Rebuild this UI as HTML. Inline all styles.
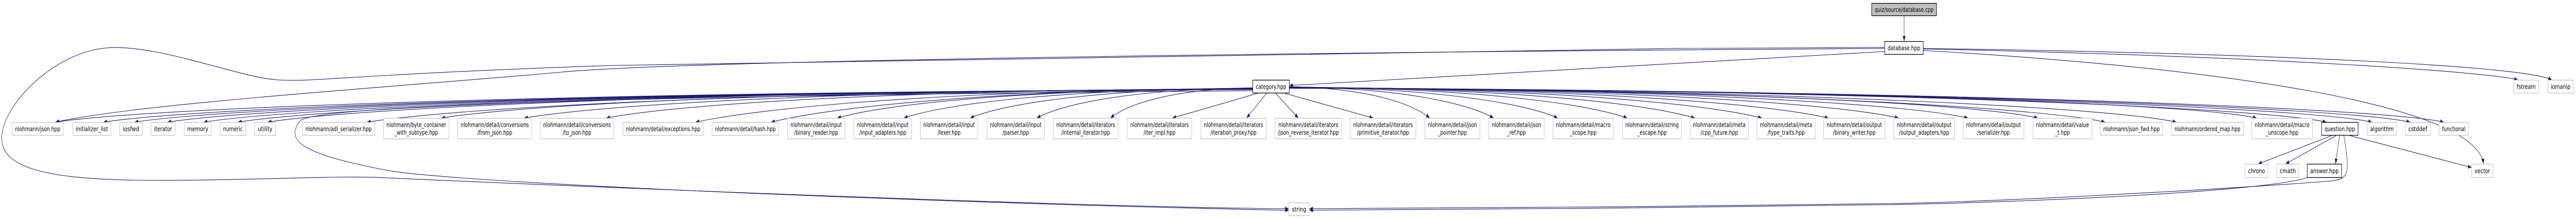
<!DOCTYPE html>
<html><head><meta charset="utf-8">
<meta name="viewport" content="width=7346">
<style>
html,body{margin:0;padding:0;background:#fff;overflow:hidden}
#g{display:block;width:100vw;height:100vh}
svg text{font-family:"DejaVu Sans","Liberation Sans",sans-serif;font-size:12px;fill:#000}
</style></head>
<body>
<svg id="g" xmlns="http://www.w3.org/2000/svg" viewBox="0 0 7346 425" preserveAspectRatio="none">
<defs>
<marker id="a" markerUnits="userSpaceOnUse" markerWidth="11" markerHeight="8" refX="10" refY="4" orient="auto">
<path d="M0,0 L10,4 L0,8 z" fill="#191970"/>
</marker>
</defs>
<g id="edges" fill="none" stroke="#191970" stroke-width="1.1"></g>
<g id="nodes"></g>
</svg>
<script>
var NS="http://www.w3.org/2000/svg";
var S=[237,263],D=[229,270];
var N=[
["json",34,181,S,["nlohmann/json.hpp"]],
["il",207,317,S,["initializer_list"]],
["iosfwd",341,406,S,["iosfwd"]],
["iterator",430,500,S,["iterator"]],
["memory",525,603,S,["memory"]],
["numeric",627,701,S,["numeric"]],
["utility",726,786,S,["utility"]],
["adl",862,1069,S,["nlohmann/adl_serializer.hpp"]],
["byte",1093,1281,D,["nlohmann/byte_container","_with_subtype.hpp"]],
["from",1305,1517,D,["nlohmann/detail/conversions","/from_json.hpp"]],
["to",1540,1751,D,["nlohmann/detail/conversions","/to_json.hpp"]],
["exc",1776,2006,S,["nlohmann/detail/exceptions.hpp"]],
["hash",2030,2221,S,["nlohmann/detail/hash.hpp"]],
["br",2245,2410,D,["nlohmann/detail/input","/binary_reader.hpp"]],
["ia",2435,2600,D,["nlohmann/detail/input","/input_adapters.hpp"]],
["lex",2624,2789,D,["nlohmann/detail/input","/lexer.hpp"]],
["par",2814,2979,D,["nlohmann/detail/input","/parser.hpp"]],
["ii",3003,3189,D,["nlohmann/detail/iterators","/internal_iterator.hpp"]],
["iti",3214,3399,D,["nlohmann/detail/iterators","/iter_impl.hpp"]],
["ip",3424,3611,D,["nlohmann/detail/iterators","/iteration_proxy.hpp"]],
["jri",3635,3827,D,["nlohmann/detail/iterators","/json_reverse_iterator.hpp"]],
["pi",3850,4038,D,["nlohmann/detail/iterators","/primitive_iterator.hpp"]],
["jp",4063,4221,D,["nlohmann/detail/json","_pointer.hpp"]],
["jr",4245,4404,D,["nlohmann/detail/json","_ref.hpp"]],
["ms",4428,4602,D,["nlohmann/detail/macro","_scope.hpp"]],
["se",4626,4796,D,["nlohmann/detail/string","_escape.hpp"]],
["cf",4819,4987,D,["nlohmann/detail/meta","/cpp_future.hpp"]],
["tt",5010,5177,D,["nlohmann/detail/meta","/type_traits.hpp"]],
["bw",5200,5376,D,["nlohmann/detail/output","/binary_writer.hpp"]],
["oa",5400,5574,D,["nlohmann/detail/output","/output_adapters.hpp"]],
["ser",5598,5772,D,["nlohmann/detail/output","/serializer.hpp"]],
["vt",5797,5966,D,["nlohmann/detail/value","_t.hpp"]],
["jf",5989,6168,S,["nlohmann/json_fwd.hpp"]],
["om",6192,6398,S,["nlohmann/ordered_map.hpp"]],
["mu",6421,6595,D,["nlohmann/detail/macro","_unscope.hpp"]],
["q",6620,6725,S,["question.hpp"],"b"],
["alg",6750,6835,S,["algorithm"]],
["cstddef",6859,6931,S,["cstddef"]],
["func",6955,7040,S,["functional"]],
["cpp",5337,5523,[6,31],["quiz/source/database.cpp"],"r"],
["db",5374,5485,[80,106],["database.hpp"],"b"],
["cat",3572,3677,[155,181],["category.hpp"],"b"],
["fs",7168,7240,[155,181],["fstream"]],
["iom",7265,7339,[155,181],["iomanip"]],
["chrono",6402,6468,[318,345],["chrono"]],
["cmath",6492,6556,[318,345],["cmath"]],
["ans",6579,6678,[318,345],["answer.hpp"],"b"],
["vec",7048,7110,[318,345],["vector"]],
["str",3675,3734,[393,419],["string"]]
];
var eg=document.getElementById("edges"),ng=document.getElementById("nodes");
function P(d){var p=document.createElementNS(NS,"path");p.setAttribute("d",d);p.setAttribute("marker-end","url(#a)");eg.appendChild(p);}
var cx=3625;
N.slice(0,39).forEach(function(n){
  var x1=n[1],x2=n[2],ty=n[3][0],tc=(x1+x2)/2;
  if(Math.abs(tc-cx)<470){
    var sx=cx+(tc-cx)*0.12; P("M"+sx+",181 L"+(x1+(x2-x1)*(tc<cx?0.7:0.35))+","+ty);
  } else if(tc<cx){
    var tx=x2-22, dx=3572-tx;
    P("M3572,"+(170+dx/900)+" C"+(3572-dx*0.55)+","+(172+dx/600)+" "+(tx+Math.min(dx*0.12,260))+","+(ty-28)+" "+tx+","+ty);
  } else {
    var tx=x1+14, dx=tx-3677;
    P("M3677,"+(168+dx/1000)+" C"+(3677+dx*0.55)+","+(170+dx/700)+" "+(tx-Math.min(dx*0.12,180))+","+(ty-28)+" "+tx+","+ty);
  }
});
P("M5430,31 L5430,80");
P("M5374,100 L3677,166");
P("M5374,94 C4000,100 2000,115 1600,140 S400,200 158,237");
P("M5374,92 C4000,95 2500,110 1750,127 S900,160 790,155 S450,85 304,93 S10,200 5,265 S150,350 450,350 S950,340 1100,345 S3000,402 3675,405");
P("M3572,176 C2500,182 900,195 855,235 S870,300 1100,330 S3000,400 3675,408");
P("M6684,263 C6700,330 6700,345 6660,350 S5800,390 5400,395 S4000,405 3734,405");
P("M6579,345 C6450,372 5800,392 5400,397 S4000,408 3734,408");
P("M6650,263 L6440,318");P("M6662,263 L6518,318");P("M6672,263 L6660,318");P("M6700,263 L7048,325");
P("M5485,98 C6300,130 7060,200 7082,318");
P("M5485,95 C6500,110 7100,140 7180,155");
P("M5485,94 C6500,104 7200,128 7277,155");
N.forEach(function(n){
  var x1=n[1],x2=n[2],y1=n[3][0],y2=n[3][1],t=n[5];
  var r=document.createElementNS(NS,"rect");
  r.setAttribute("x",x1+0.5);r.setAttribute("y",y1+0.5);r.setAttribute("width",x2-x1-1);r.setAttribute("height",y2-y1-1);
  r.setAttribute("fill",t=="r"?"#bfbfbf":"#fff");r.setAttribute("stroke",(t=="b"||t=="r")?"#000":"#bfbfbf");r.setAttribute("stroke-width",t?1.3:1.2);
  ng.appendChild(r);
  var L=n[4],ts=[],mx=0,cxn=(x1+x2)/2,h=y2-y1;
  L.forEach(function(s,i){
    var e=document.createElementNS(NS,"text");e.textContent=s;e.setAttribute("text-anchor","middle");e.setAttribute("x",cxn);
    var y=L.length==1?(y1+h/2+4.5):(y1+h/2+(i==0?-3:12));
    e.setAttribute("y",y);ng.appendChild(e);ts.push(e);var w=e.getComputedTextLength();if(w>mx)mx=w;
  });
  var sc=Math.min(1.3,(x2-x1-18)/mx);
  ts.forEach(function(e){var w=e.getComputedTextLength();e.setAttribute("textLength",w*sc);e.setAttribute("lengthAdjust","spacingAndGlyphs");});
});
</script>
</body></html>
